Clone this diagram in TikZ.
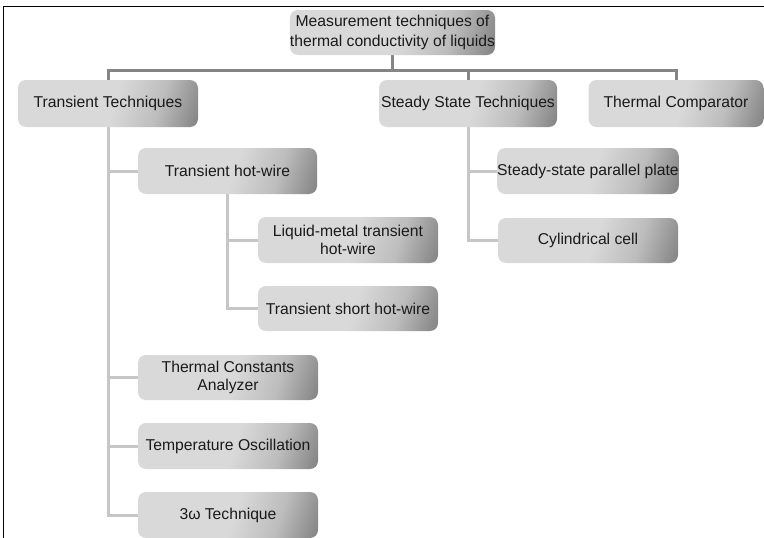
\documentclass[tikz,border=0pt]{standalone}
\usepackage{fontspec}
\setmainfont{Liberation Sans}
\usetikzlibrary{backgrounds}
\definecolor{boxlight}{HTML}{D9D9D9}
\definecolor{boxmid}{HTML}{BDBDBD}
\definecolor{boxdark}{HTML}{888888}
\definecolor{txt}{HTML}{1A1A1A}
\definecolor{barcol}{HTML}{858585}
\definecolor{linecol}{HTML}{C6C6C6}
\pgfdeclarehorizontalshading{boxshade}{100bp}{color(0bp)=(boxlight); color(52bp)=(boxlight); color(67bp)=(boxmid); color(80bp)=(boxdark); color(100bp)=(boxdark)}
\tikzset{
  tbox/.style={rectangle, rounded corners=8pt, shading=boxshade, shading angle=-18,
    minimum width=180pt, minimum height=46pt, inner sep=0pt, align=center,
    text=txt, font=\fontsize{15.7}{18}\selectfont},
  topline/.style={draw=barcol, line width=3pt},
  subline/.style={draw=linecol, line width=3pt},
}
\begin{document}
\begin{tikzpicture}[x=1pt,y=-1pt]
\useasboundingbox (0,0) rectangle (764,538);
\node[tbox, minimum width=179pt, minimum height=45pt, font=\fontsize{15.7}{20}\selectfont] (root) at (392.5,32.5) {Measurement techniques of\\thermal conductivity of liquids};
\node[tbox, minimum height=47pt] (tt) at (108,103.5) {Transient Techniques};
\node[tbox, minimum width=178pt, minimum height=47pt] (sst) at (468,103.5) {Steady State Techniques};
\node[tbox, minimum width=175pt, minimum height=47pt] (tc) at (676,103.5) {Thermal Comparator};
\node[tbox, minimum width=179pt] (thw) at (227.5,171) {Transient hot-wire};
\node[tbox] (lm) at (348,240) {Liquid-metal transient\\hot-wire};
\node[tbox, minimum height=45pt] (tshw) at (348,308.5) {Transient short hot-wire};
\node[tbox, minimum height=45pt] (tca) at (228,377.5) {Thermal Constants\\Analyzer};
\node[tbox] (to) at (228,446) {Temperature Oscillation};
\node[tbox] (tw) at (228,515) {3ω Technique};
\node[tbox] (sspp) at (588,171) {Steady-state parallel plate};
\node[tbox, minimum height=45pt] (cc) at (588,240.5) {Cylindrical cell};
\coordinate (bar) at (0,70);
\begin{scope}[on background layer]
\draw[topline] (root.south) -- (root.south |- bar);
\draw[topline] (tt.north) -- (tt.north |- bar) -- (tc.north |- bar) -- (tc.north);
\draw[topline] (sst.north) -- (sst.north |- bar);
\draw[subline] (tt.south) |- (tw.west);
\draw[subline] (tt.south |- thw.west) -- (thw.west);
\draw[subline] (tt.south |- tca.west) -- (tca.west);
\draw[subline] (tt.south |- to.west) -- (to.west);
\draw[subline] (thw.south) |- (tshw.west);
\draw[subline] (thw.south |- lm.west) -- (lm.west);
\draw[subline] (sst.south) |- (cc.west);
\draw[subline] (sst.south |- sspp.west) -- (sspp.west);
\end{scope}
\draw[black, line width=1.5pt] (3.5,538) -- (3.5,6.5) -- (764,6.5);
\end{tikzpicture}
\end{document}
